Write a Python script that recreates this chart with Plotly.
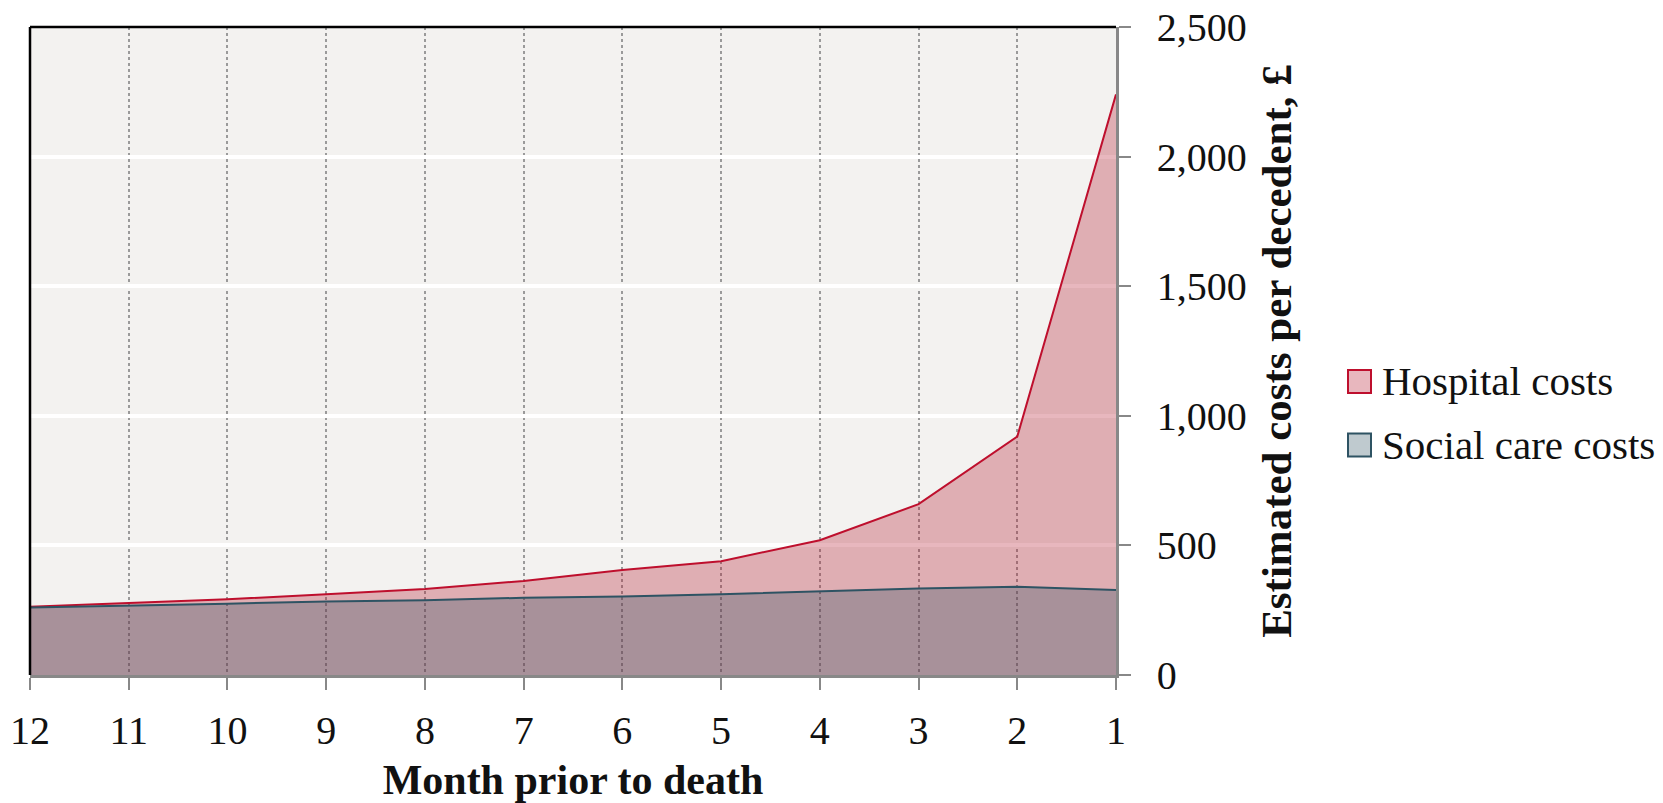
import plotly.graph_objects as go

months = [12, 11, 10, 9, 8, 7, 6, 5, 4, 3, 2, 1]
hospital_costs = [263, 277, 292, 312, 332, 363, 405, 439, 520, 659, 920, 2240]
social_care_costs = [260, 267, 275, 284, 288, 298, 303, 312, 323, 334, 340, 328]
y_ticks = [0, 500, 1000, 1500, 2000, 2500]
series_names = ["Hospital costs", "Social care costs"]
fill_colors = ["rgba(178,18,40,0.3)", "rgba(43,79,95,0.3)"]
line_colors = ["#BE0F2D", "#2E5363"]

FONT = "Liberation Serif"

W, H = 1663, 803
ML, MT = 30, 27
MR = W - 1116
MB = H - 675
PW, PH = W - ML - MR, H - MT - MB

fig = go.Figure()
for name, ys, fc, lc in zip(series_names, [hospital_costs, social_care_costs], fill_colors, line_colors):
    fig.add_trace(go.Scatter(
        x=months, y=ys, name=name, mode="lines",
        fill="tozeroy", fillcolor=fc, line=dict(color=lc, width=2),
        showlegend=False,
    ))

fig.update_layout(
    width=W, height=H,
    margin=dict(l=ML, r=MR, t=MT, b=MB),
    paper_bgcolor="white", plot_bgcolor="#F3F2F0",
    font=dict(family=FONT, size=40, color="#111"),
    showlegend=False,
    xaxis=dict(
        range=[12, 1], tickvals=months, ticktext=[str(m) for m in months],
        showgrid=True, gridcolor="#9A9A9A", griddash="dot", gridwidth=1.5,
        showline=True, linecolor="#888", linewidth=2.5,
        ticks="outside", ticklen=12, tickwidth=2, tickcolor="#888",
        ticklabelstandoff=6, zeroline=False, automargin=False,
        ticklabeloverflow="allow",
        title=dict(text="<b>Month prior to death</b>", standoff=16,
                   font=dict(family=FONT, size=42)),
        tickfont=dict(family=FONT, size=40),
    ),
    yaxis=dict(
        side="right", range=[0, 2500], tickvals=y_ticks, tickformat=",",
        showgrid=True, gridcolor="white", gridwidth=3.5,
        showline=True, linecolor="#888", linewidth=2.5,
        ticks="outside", ticklen=12, tickwidth=2, tickcolor="#888",
        ticklabelstandoff=18, zeroline=False, automargin=False,
        ticklabeloverflow="allow",
        title=dict(text="<b>Estimated costs per decedent, £</b>", standoff=16,
                   font=dict(family=FONT, size=43)),
        tickfont=dict(family=FONT, size=40),
    ),
)

# black top and left frame lines
fig.add_shape(type="line", xref="paper", yref="paper", x0=0, x1=1, y0=1, y1=1,
              line=dict(color="black", width=2.5), layer="above")
fig.add_shape(type="line", xref="paper", yref="paper", x0=0, x1=0, y0=0, y1=1,
              line=dict(color="black", width=2.5), layer="above")

# legend (swatches + labels), page pixel positions converted to paper coords
def px_x(p):
    return (p - ML) / PW

def px_y(p):
    return (H - MB - p) / PH

legend_rows_y = [381.5, 445]
for name, fc, lc, cy in zip(series_names, fill_colors, line_colors, legend_rows_y):
    fig.add_shape(type="rect", xref="paper", yref="paper",
                  x0=px_x(1348), x1=px_x(1371), y0=px_y(cy + 11.5), y1=px_y(cy - 11.5),
                  fillcolor=fc, line=dict(color=lc, width=2))
    fig.add_annotation(xref="paper", yref="paper", x=px_x(1380), y=px_y(cy),
                       xanchor="left", yanchor="middle", showarrow=False,
                       text=name, font=dict(family=FONT, size=41, color="#111"))

fig.write_html("out.html", config={"displayModeBar": False},
               post_script="document.body.style.margin='0';")
